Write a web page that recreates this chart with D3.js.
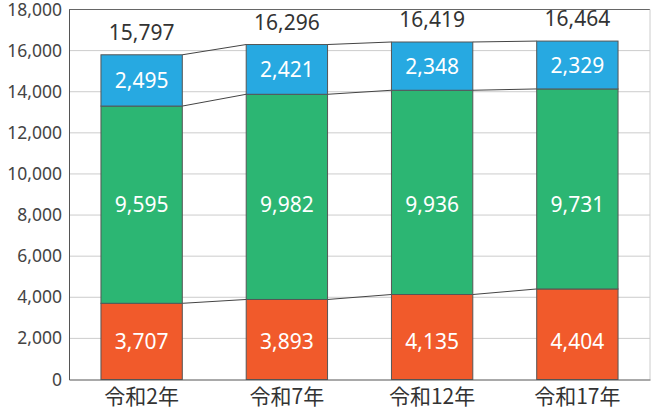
<!DOCTYPE html>
<html>
<head>
<meta charset="utf-8">
<script src="https://cdn.jsdelivr.net/npm/d3@7"></script>
<style>
  body { margin: 0; background: #fff; }
  svg text { font-family: "Noto Sans", "Noto Sans CJK JP", sans-serif; }
</style>
</head>
<body>
<svg id="chart" width="651" height="412"></svg>
<script>
// data
let years = ["令和2年", "令和7年", "令和12年", "令和17年"];
let bottomVals = [3707, 3893, 4135, 4404];
let middleVals = [9595, 9982, 9936, 9731];
let topVals = [2495, 2421, 2348, 2329];
let totals = [15797, 16296, 16419, 16464];
let yTicks = [0, 2000, 4000, 6000, 8000, 10000, 12000, 14000, 16000, 18000];

let colors = ["#f15a2b", "#2cb673", "#27a9e1"];

let svg = d3.select("#chart");
let plotL = 69, plotR = 650, plotT = 9.5, plotB = 379.5;

let rows = years.map(function(y, i) {
    return { year: y, a: bottomVals[i], b: middleVals[i], c: topVals[i] };
});
let stack = d3.stack().keys(["a", "b", "c"])(rows);

let x = d3.scaleBand()
    .domain(years)
    .range([plotL, plotR])
    .paddingInner(0.44)
    .paddingOuter(0.22);

let y = d3.scaleLinear()
    .domain([0, 18000])
    .range([plotB, plotT]);

let fmt = d3.format(",");

// grid lines
svg.append("g")
    .selectAll("line")
    .data(yTicks.slice(1, -1))
    .enter()
    .append("line")
    .attr("x1", plotL).attr("x2", plotR)
    .attr("y1", function(d) { return y(d); })
    .attr("y2", function(d) { return y(d); })
    .attr("stroke", "#cccccc")
    .attr("stroke-width", 1);

// frame: top and right
svg.append("line")
    .attr("x1", plotL).attr("x2", plotR).attr("y1", plotT).attr("y2", plotT)
    .attr("stroke", "#666").attr("stroke-width", 1);
svg.append("line")
    .attr("x1", plotR).attr("x2", plotR).attr("y1", plotT).attr("y2", plotB)
    .attr("stroke", "#cccccc").attr("stroke-width", 1);

// connector lines between bars
stack.forEach(function(layer) {
    for (let i = 0; i < years.length - 1; i++) {
        svg.append("line")
            .attr("x1", x(years[i]) + x.bandwidth())
            .attr("x2", x(years[i + 1]))
            .attr("y1", y(layer[i][1]))
            .attr("y2", y(layer[i + 1][1]))
            .attr("stroke", "#444")
            .attr("stroke-width", 1);
    }
});

// bars
stack.forEach(function(layer, k) {
    let g = svg.append("g");
    g.selectAll("rect")
        .data(layer)
        .enter()
        .append("rect")
        .attr("x", function(d) { return x(d.data.year); })
        .attr("y", function(d) { return y(d[1]); })
        .attr("width", x.bandwidth())
        .attr("height", function(d) { return y(d[0]) - y(d[1]); })
        .attr("fill", colors[k])
        .attr("stroke", "#555")
        .attr("stroke-width", 1);
    // lower two layers keep their labels on one row (middle of the first bar)
    g.selectAll("text")
        .data(layer)
        .enter()
        .append("text")
        .text(function(d) { return fmt(d[1] - d[0]); })
        .attr("x", function(d) { return x(d.data.year) + x.bandwidth() / 2; })
        .attr("y", function(d) {
            let s = k < 2 ? layer[0] : d;
            return (y(s[0]) + y(s[1])) / 2;
        })
        .attr("dy", "0.36em")
        .attr("text-anchor", "middle")
        .attr("font-size", "21px")
        .attr("fill", "#ffffff");
});

// totals above bars
svg.append("g")
    .selectAll("text")
    .data(totals)
    .enter()
    .append("text")
    .text(function(d) { return fmt(d); })
    .attr("x", function(d, i) { return x(years[i]) + x.bandwidth() / 2; })
    .attr("y", function(d) { return y(d) - 15; })
    .attr("text-anchor", "middle")
    .attr("font-size", "21px")
    .attr("fill", "#333");

// y axis
let yAxis = svg.append("g")
    .attr("transform", "translate(" + plotL + ",0)")
    .call(d3.axisLeft(y).tickValues(yTicks).tickSize(0).tickPadding(7).tickFormat(fmt));
yAxis.select(".domain").attr("stroke", "#555");
yAxis.selectAll("text").attr("font-size", "17.5px").attr("fill", "#444")
    .style("font-family", "'Noto Sans', sans-serif");

// x axis
let xAxis = svg.append("g")
    .attr("transform", "translate(0," + plotB + ")")
    .call(d3.axisBottom(x).tickSize(0).tickPadding(10));
xAxis.select(".domain").attr("stroke", "#555");
xAxis.selectAll("text").attr("font-size", "21px").attr("fill", "#333")
    .style("font-family", "'Noto Sans CJK JP', sans-serif");
</script>
</body>
</html>
